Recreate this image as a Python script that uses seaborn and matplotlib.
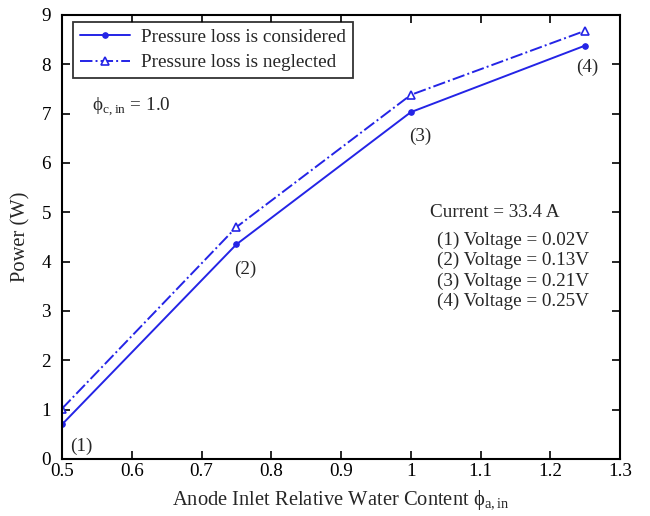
import matplotlib
matplotlib.use("Agg")
import matplotlib.pyplot as plt
import seaborn as sns
import pandas as pd

phi_a = [0.5, 0.75, 1.0, 1.25]
power_considered = [0.70, 4.35, 7.03, 8.38]
power_neglected = [1.02, 4.70, 7.38, 8.68]
point_labels = ["(1)", "(2)", "(3)", "(4)"]
voltage_lines = ["(1) Voltage = 0.02V", "(2) Voltage = 0.13V",
                 "(3) Voltage = 0.21V", "(4) Voltage = 0.25V"]
xticks = [0.5, 0.6, 0.7, 0.8, 0.9, 1.0, 1.1, 1.2, 1.3]
xtick_labels = ["0.5", "0.6", "0.7", "0.8", "0.9", "1", "1.1", "1.2", "1.3"]
yticks = list(range(0, 10))

sns.set_theme(style="ticks")
plt.rcParams["font.family"] = ["Liberation Serif", "DejaVu Serif"]
plt.rcParams["mathtext.fontset"] = "custom"
plt.rcParams["mathtext.rm"] = "Liberation Serif"
plt.rcParams["xtick.direction"] = "in"
plt.rcParams["ytick.direction"] = "in"

FS = 13.8
color = "#2424e6"
fig = plt.figure(figsize=(6.5, 5.16), dpi=100)
ax = fig.add_axes([0.0954, 0.1105, 0.8586, 0.8605])

df_c = pd.DataFrame({"x": phi_a, "y": power_considered})
df_n = pd.DataFrame({"x": phi_a, "y": power_neglected})
sns.lineplot(data=df_c, x="x", y="y", ax=ax, color=color, linestyle="-",
             marker="o", markersize=4, markeredgecolor=color, linewidth=1.4,
             label="Pressure loss is considered")
sns.lineplot(data=df_n, x="x", y="y", ax=ax, color=color, linestyle="-.",
             marker="^", markersize=6, markerfacecolor="white",
             markeredgecolor=color, markeredgewidth=1.2, linewidth=1.4,
             label="Pressure loss is neglected")

ax.set_xlim(0.5, 1.3)
ax.set_ylim(0, 9)
ax.set_xticks(xticks)
ax.set_xticklabels(xtick_labels)
ax.set_yticks(yticks)
ax.tick_params(axis="both", which="both", top=True, right=True, labelsize=FS,
               length=6, width=1.2, colors="black")
ax.tick_params(axis="x", pad=3)
ax.tick_params(axis="y", pad=8)
for s in ax.spines.values():
    s.set_linewidth(1.5)
    s.set_color("black")

ax.set_xlabel("Anode Inlet Relative Water Content ϕ$_{\\mathrm{a,in}}$", fontsize=14.8, labelpad=6)
ax.set_ylabel("Power (W)", fontsize=14.8, labelpad=8)

leg = ax.legend(loc="upper left", bbox_to_anchor=(0.02, 0.984), fontsize=FS,
                frameon=True, fancybox=False, edgecolor="black",
                handlelength=2.6, handletextpad=0.6, borderpad=0.35,
                labelspacing=0.4, borderaxespad=0)
leg.get_frame().set_linewidth(1.3)

ax.text(0.543, 7.15, "ϕ$_{\\mathrm{c,in}}$ = 1.0", fontsize=FS, va="center", ha="left")
ax.text(1.121, 5.0, "Current = 33.4 A", fontsize=FS, va="center", ha="center")
for i, t in enumerate(voltage_lines):
    ax.text(1.038, 4.44 - 0.415 * i, t, fontsize=FS, va="center", ha="left")

label_offsets = [(0.027, -0.45), (0.012, -0.5), (0.013, -0.5), (0.003, -0.45)]
for xv, yv, lab, (dx, dy) in zip(phi_a, power_considered, point_labels, label_offsets):
    ax.text(xv + dx, yv + dy, lab, fontsize=FS, va="center", ha="center")

fig.savefig("out.png", dpi=100)
